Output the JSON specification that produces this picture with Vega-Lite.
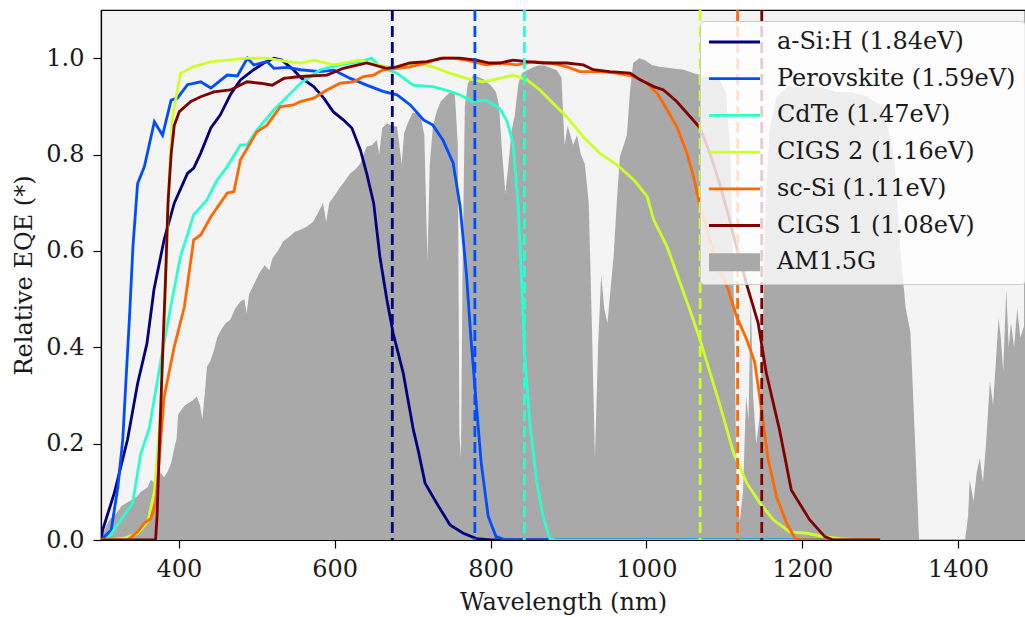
{
  "$schema": "https://vega.github.io/schema/vega-lite/v6.json",
  "width": 924,
  "height": 530,
  "autosize": {"type": "none"},
  "padding": {"left": 101, "top": 10, "right": 0, "bottom": 77},
  "background": "white",
  "config": {
    "view": {"fill": "#f4f4f4", "stroke": "#000000", "strokeWidth": 1.2},
    "font": "DejaVu Serif",
    "axis": {
      "domainColor": "#000000", "domainWidth": 1.2,
      "tickColor": "#000000", "tickWidth": 1.2, "tickSize": 8,
      "labelFont": "DejaVu Serif", "labelFontSize": 24, "labelColor": "#1a1a1a", "labelPadding": 9,
      "titleFont": "DejaVu Serif", "titleFontSize": 24, "titleFontWeight": "normal", "titleColor": "#1a1a1a",
      "grid": false
    },
    "legend": {
      "labelFont": "DejaVu Serif", "labelFontSize": 24, "labelColor": "#1a1a1a", "labelLimit": 500,
      "fillColor": "rgba(255,255,255,0.8)", "strokeColor": "#cccccc", "cornerRadius": 4,
      "padding": 9
    }
  },
  "datasets": {
    "spectrum": [
      {"wl":300,"rel":0.0},{"wl":303,"rel":0.015},{"wl":307,"rel":0.03},{"wl":312,"rel":0.045},{"wl":317,"rel":0.05},{"wl":322,"rel":0.06},{"wl":326,"rel":0.07},{"wl":331,"rel":0.075},{"wl":336,"rel":0.08},{"wl":341,"rel":0.085},{"wl":346,"rel":0.09},{"wl":351,"rel":0.1},{"wl":356,"rel":0.105},{"wl":360,"rel":0.11},{"wl":364,"rel":0.125},{"wl":368,"rel":0.12},{"wl":372,"rel":0.152},{"wl":376,"rel":0.14},{"wl":381,"rel":0.13},{"wl":385,"rel":0.14},{"wl":390,"rel":0.16},{"wl":394,"rel":0.19},{"wl":397,"rel":0.21},{"wl":399,"rel":0.26},{"wl":403,"rel":0.27},{"wl":408,"rel":0.28},{"wl":413,"rel":0.285},{"wl":418,"rel":0.29},{"wl":423,"rel":0.298},{"wl":427,"rel":0.28},{"wl":430,"rel":0.25},{"wl":433,"rel":0.3},{"wl":436,"rel":0.36},{"wl":440,"rel":0.37},{"wl":445,"rel":0.394},{"wl":449,"rel":0.42},{"wl":454,"rel":0.436},{"wl":460,"rel":0.45},{"wl":466,"rel":0.457},{"wl":472,"rel":0.48},{"wl":479,"rel":0.495},{"wl":484,"rel":0.5},{"wl":487,"rel":0.47},{"wl":490,"rel":0.51},{"wl":496,"rel":0.53},{"wl":503,"rel":0.553},{"wl":510,"rel":0.57},{"wl":516,"rel":0.56},{"wl":520,"rel":0.585},{"wl":527,"rel":0.6},{"wl":534,"rel":0.62},{"wl":542,"rel":0.63},{"wl":549,"rel":0.64},{"wl":556,"rel":0.644},{"wl":564,"rel":0.65},{"wl":572,"rel":0.66},{"wl":579,"rel":0.68},{"wl":585,"rel":0.7},{"wl":589,"rel":0.66},{"wl":593,"rel":0.7},{"wl":599,"rel":0.713},{"wl":606,"rel":0.73},{"wl":613,"rel":0.745},{"wl":620,"rel":0.761},{"wl":627,"rel":0.77},{"wl":633,"rel":0.782},{"wl":637,"rel":0.8},{"wl":641,"rel":0.816},{"wl":648,"rel":0.82},{"wl":654,"rel":0.83},{"wl":657,"rel":0.8},{"wl":661,"rel":0.855},{"wl":667,"rel":0.865},{"wl":673,"rel":0.86},{"wl":680,"rel":0.858},{"wl":686,"rel":0.78},{"wl":689,"rel":0.844},{"wl":695,"rel":0.87},{"wl":700,"rel":0.886},{"wl":706,"rel":0.886},{"wl":711,"rel":0.875},{"wl":715,"rel":0.84},{"wl":719,"rel":0.58},{"wl":722,"rel":0.78},{"wl":726,"rel":0.858},{"wl":731,"rel":0.89},{"wl":736,"rel":0.91},{"wl":742,"rel":0.92},{"wl":748,"rel":0.93},{"wl":754,"rel":0.93},{"wl":758,"rel":0.82},{"wl":760,"rel":0.22},{"wl":762,"rel":0.17},{"wl":764,"rel":0.55},{"wl":767,"rel":0.9},{"wl":771,"rel":0.948},{"wl":778,"rel":0.965},{"wl":786,"rel":0.96},{"wl":792,"rel":0.955},{"wl":797,"rel":0.948},{"wl":802,"rel":0.94},{"wl":807,"rel":0.93},{"wl":811,"rel":0.9},{"wl":815,"rel":0.8},{"wl":819,"rel":0.72},{"wl":823,"rel":0.78},{"wl":827,"rel":0.85},{"wl":831,"rel":0.88},{"wl":836,"rel":0.95},{"wl":841,"rel":0.97},{"wl":847,"rel":0.975},{"wl":853,"rel":0.98},{"wl":861,"rel":0.985},{"wl":869,"rel":0.985},{"wl":877,"rel":0.98},{"wl":885,"rel":0.975},{"wl":891,"rel":0.96},{"wl":895,"rel":0.82},{"wl":899,"rel":0.86},{"wl":906,"rel":0.82},{"wl":911,"rel":0.84},{"wl":916,"rel":0.8},{"wl":921,"rel":0.78},{"wl":926,"rel":0.7},{"wl":930,"rel":0.45},{"wl":934,"rel":0.17},{"wl":938,"rel":0.4},{"wl":942,"rel":0.55},{"wl":946,"rel":0.48},{"wl":950,"rel":0.45},{"wl":954,"rel":0.52},{"wl":958,"rel":0.59},{"wl":962,"rel":0.7},{"wl":966,"rel":0.796},{"wl":971,"rel":0.82},{"wl":975,"rel":0.84},{"wl":979,"rel":0.93},{"wl":983,"rel":0.99},{"wl":991,"rel":1.0},{"wl":999,"rel":0.995},{"wl":1007,"rel":0.986},{"wl":1017,"rel":0.982},{"wl":1027,"rel":0.98},{"wl":1037,"rel":0.978},{"wl":1048,"rel":0.976},{"wl":1059,"rel":0.97},{"wl":1069,"rel":0.965},{"wl":1082,"rel":0.96},{"wl":1094,"rel":0.955},{"wl":1102,"rel":0.93},{"wl":1108,"rel":0.8},{"wl":1113,"rel":0.45},{"wl":1116,"rel":0.08},{"wl":1120,"rel":0.04},{"wl":1124,"rel":0.1},{"wl":1128,"rel":0.3},{"wl":1131,"rel":0.25},{"wl":1134,"rel":0.5},{"wl":1137,"rel":0.3},{"wl":1141,"rel":0.2},{"wl":1145,"rel":0.25},{"wl":1149,"rel":0.4},{"wl":1153,"rel":0.7},{"wl":1158,"rel":0.85},{"wl":1167,"rel":0.92},{"wl":1182,"rel":0.94},{"wl":1202,"rel":0.94},{"wl":1222,"rel":0.94},{"wl":1243,"rel":0.93},{"wl":1263,"rel":0.93},{"wl":1283,"rel":0.92},{"wl":1303,"rel":0.9},{"wl":1318,"rel":0.8},{"wl":1326,"rel":0.6},{"wl":1333,"rel":0.48},{"wl":1339,"rel":0.43},{"wl":1345,"rel":0.2},{"wl":1350,"rel":0.0},{"wl":1409,"rel":0.0},{"wl":1413,"rel":0.05},{"wl":1415,"rel":0.125},{"wl":1420,"rel":0.08},{"wl":1424,"rel":0.14},{"wl":1428,"rel":0.17},{"wl":1432,"rel":0.12},{"wl":1436,"rel":0.2},{"wl":1441,"rel":0.33},{"wl":1445,"rel":0.28},{"wl":1449,"rel":0.38},{"wl":1452,"rel":0.46},{"wl":1455,"rel":0.42},{"wl":1458,"rel":0.35},{"wl":1462,"rel":0.52},{"wl":1465,"rel":0.4},{"wl":1468,"rel":0.45},{"wl":1472,"rel":0.4},{"wl":1476,"rel":0.48},{"wl":1480,"rel":0.42},{"wl":1486,"rel":0.45}
    ],
    "eqe": [
      {"series":"a-Si:H (1.84eV)","wl":300,"eqe":0.0},{"series":"a-Si:H (1.84eV)","wl":302,"eqe":0.02},{"series":"a-Si:H (1.84eV)","wl":317,"eqe":0.097},{"series":"a-Si:H (1.84eV)","wl":334,"eqe":0.208},{"series":"a-Si:H (1.84eV)","wl":347,"eqe":0.325},{"series":"a-Si:H (1.84eV)","wl":359,"eqe":0.408},{"series":"a-Si:H (1.84eV)","wl":368,"eqe":0.52},{"series":"a-Si:H (1.84eV)","wl":381,"eqe":0.623},{"series":"a-Si:H (1.84eV)","wl":394,"eqe":0.699},{"series":"a-Si:H (1.84eV)","wl":411,"eqe":0.761},{"series":"a-Si:H (1.84eV)","wl":419,"eqe":0.772},{"series":"a-Si:H (1.84eV)","wl":428,"eqe":0.803},{"series":"a-Si:H (1.84eV)","wl":441,"eqe":0.855},{"series":"a-Si:H (1.84eV)","wl":453,"eqe":0.882},{"series":"a-Si:H (1.84eV)","wl":466,"eqe":0.924},{"series":"a-Si:H (1.84eV)","wl":479,"eqe":0.955},{"series":"a-Si:H (1.84eV)","wl":496,"eqe":0.976},{"series":"a-Si:H (1.84eV)","wl":509,"eqe":0.99},{"series":"a-Si:H (1.84eV)","wl":522,"eqe":1.0},{"series":"a-Si:H (1.84eV)","wl":532,"eqe":0.996},{"series":"a-Si:H (1.84eV)","wl":547,"eqe":0.976},{"series":"a-Si:H (1.84eV)","wl":556,"eqe":0.96},{"series":"a-Si:H (1.84eV)","wl":573,"eqe":0.941},{"series":"a-Si:H (1.84eV)","wl":586,"eqe":0.917},{"series":"a-Si:H (1.84eV)","wl":598,"eqe":0.889},{"series":"a-Si:H (1.84eV)","wl":611,"eqe":0.872},{"series":"a-Si:H (1.84eV)","wl":622,"eqe":0.855},{"series":"a-Si:H (1.84eV)","wl":633,"eqe":0.809},{"series":"a-Si:H (1.84eV)","wl":641,"eqe":0.761},{"series":"a-Si:H (1.84eV)","wl":650,"eqe":0.699},{"series":"a-Si:H (1.84eV)","wl":658,"eqe":0.588},{"series":"a-Si:H (1.84eV)","wl":667,"eqe":0.498},{"series":"a-Si:H (1.84eV)","wl":675,"eqe":0.429},{"series":"a-Si:H (1.84eV)","wl":688,"eqe":0.346},{"series":"a-Si:H (1.84eV)","wl":701,"eqe":0.228},{"series":"a-Si:H (1.84eV)","wl":707,"eqe":0.187},{"series":"a-Si:H (1.84eV)","wl":716,"eqe":0.118},{"series":"a-Si:H (1.84eV)","wl":731,"eqe":0.076},{"series":"a-Si:H (1.84eV)","wl":748,"eqe":0.031},{"series":"a-Si:H (1.84eV)","wl":765,"eqe":0.014},{"series":"a-Si:H (1.84eV)","wl":782,"eqe":0.003},{"series":"a-Si:H (1.84eV)","wl":800,"eqe":0.0},{"series":"a-Si:H (1.84eV)","wl":1300,"eqe":0.0},
      {"series":"Perovskite (1.59eV)","wl":300,"eqe":0.0},{"series":"Perovskite (1.59eV)","wl":302.5,"eqe":0.004},{"series":"Perovskite (1.59eV)","wl":313,"eqe":0.02},{"series":"Perovskite (1.59eV)","wl":321.7,"eqe":0.11},{"series":"Perovskite (1.59eV)","wl":328,"eqe":0.21},{"series":"Perovskite (1.59eV)","wl":332,"eqe":0.33},{"series":"Perovskite (1.59eV)","wl":336.5,"eqe":0.46},{"series":"Perovskite (1.59eV)","wl":341,"eqe":0.609},{"series":"Perovskite (1.59eV)","wl":347,"eqe":0.74},{"series":"Perovskite (1.59eV)","wl":355.7,"eqe":0.775},{"series":"Perovskite (1.59eV)","wl":368.5,"eqe":0.868},{"series":"Perovskite (1.59eV)","wl":379,"eqe":0.84},{"series":"Perovskite (1.59eV)","wl":390,"eqe":0.913},{"series":"Perovskite (1.59eV)","wl":398,"eqe":0.917},{"series":"Perovskite (1.59eV)","wl":411,"eqe":0.945},{"series":"Perovskite (1.59eV)","wl":428,"eqe":0.951},{"series":"Perovskite (1.59eV)","wl":441,"eqe":0.938},{"series":"Perovskite (1.59eV)","wl":462,"eqe":0.965},{"series":"Perovskite (1.59eV)","wl":475,"eqe":0.963},{"series":"Perovskite (1.59eV)","wl":488,"eqe":1.0},{"series":"Perovskite (1.59eV)","wl":496,"eqe":0.986},{"series":"Perovskite (1.59eV)","wl":513,"eqe":0.993},{"series":"Perovskite (1.59eV)","wl":522,"eqe":0.979},{"series":"Perovskite (1.59eV)","wl":539,"eqe":0.981},{"series":"Perovskite (1.59eV)","wl":556,"eqe":0.976},{"series":"Perovskite (1.59eV)","wl":581,"eqe":0.972},{"series":"Perovskite (1.59eV)","wl":599,"eqe":0.975},{"series":"Perovskite (1.59eV)","wl":620,"eqe":0.958},{"series":"Perovskite (1.59eV)","wl":641,"eqe":0.944},{"series":"Perovskite (1.59eV)","wl":662,"eqe":0.931},{"series":"Perovskite (1.59eV)","wl":680,"eqe":0.924},{"series":"Perovskite (1.59eV)","wl":697,"eqe":0.903},{"series":"Perovskite (1.59eV)","wl":714,"eqe":0.872},{"series":"Perovskite (1.59eV)","wl":726,"eqe":0.861},{"series":"Perovskite (1.59eV)","wl":739,"eqe":0.83},{"series":"Perovskite (1.59eV)","wl":752,"eqe":0.782},{"series":"Perovskite (1.59eV)","wl":761,"eqe":0.692},{"series":"Perovskite (1.59eV)","wl":769,"eqe":0.553},{"series":"Perovskite (1.59eV)","wl":775,"eqe":0.415},{"series":"Perovskite (1.59eV)","wl":782,"eqe":0.277},{"series":"Perovskite (1.59eV)","wl":788,"eqe":0.16},{"series":"Perovskite (1.59eV)","wl":797,"eqe":0.049},{"series":"Perovskite (1.59eV)","wl":807,"eqe":0.007},{"series":"Perovskite (1.59eV)","wl":820,"eqe":0.0},{"series":"Perovskite (1.59eV)","wl":1300,"eqe":0.0},
      {"series":"CdTe (1.47eV)","wl":300,"eqe":0.0},{"series":"CdTe (1.47eV)","wl":308.5,"eqe":0.002},{"series":"CdTe (1.47eV)","wl":321,"eqe":0.031},{"series":"CdTe (1.47eV)","wl":340.5,"eqe":0.076},{"series":"CdTe (1.47eV)","wl":351,"eqe":0.179},{"series":"CdTe (1.47eV)","wl":362,"eqe":0.232},{"series":"CdTe (1.47eV)","wl":377,"eqe":0.374},{"series":"CdTe (1.47eV)","wl":389.5,"eqe":0.484},{"series":"CdTe (1.47eV)","wl":402,"eqe":0.588},{"series":"CdTe (1.47eV)","wl":419,"eqe":0.675},{"series":"CdTe (1.47eV)","wl":436,"eqe":0.706},{"series":"CdTe (1.47eV)","wl":449,"eqe":0.747},{"series":"CdTe (1.47eV)","wl":462,"eqe":0.775},{"series":"CdTe (1.47eV)","wl":479,"eqe":0.82},{"series":"CdTe (1.47eV)","wl":487.5,"eqe":0.82},{"series":"CdTe (1.47eV)","wl":500,"eqe":0.851},{"series":"CdTe (1.47eV)","wl":522,"eqe":0.893},{"series":"CdTe (1.47eV)","wl":539,"eqe":0.92},{"series":"CdTe (1.47eV)","wl":556,"eqe":0.948},{"series":"CdTe (1.47eV)","wl":581.5,"eqe":0.976},{"series":"CdTe (1.47eV)","wl":607,"eqe":0.986},{"series":"CdTe (1.47eV)","wl":632.6,"eqe":0.993},{"series":"CdTe (1.47eV)","wl":647.5,"eqe":1.0},{"series":"CdTe (1.47eV)","wl":658,"eqe":0.982},{"series":"CdTe (1.47eV)","wl":679.5,"eqe":0.969},{"series":"CdTe (1.47eV)","wl":700.7,"eqe":0.944},{"series":"CdTe (1.47eV)","wl":726,"eqe":0.941},{"series":"CdTe (1.47eV)","wl":743,"eqe":0.934},{"series":"CdTe (1.47eV)","wl":760.5,"eqe":0.924},{"series":"CdTe (1.47eV)","wl":777,"eqe":0.91},{"series":"CdTe (1.47eV)","wl":794.5,"eqe":0.913},{"series":"CdTe (1.47eV)","wl":812,"eqe":0.895},{"series":"CdTe (1.47eV)","wl":821,"eqe":0.87},{"series":"CdTe (1.47eV)","wl":829,"eqe":0.823},{"series":"CdTe (1.47eV)","wl":835.5,"eqe":0.692},{"series":"CdTe (1.47eV)","wl":839.5,"eqe":0.553},{"series":"CdTe (1.47eV)","wl":844,"eqe":0.38},{"series":"CdTe (1.47eV)","wl":850.5,"eqe":0.242},{"series":"CdTe (1.47eV)","wl":859,"eqe":0.124},{"series":"CdTe (1.47eV)","wl":867.5,"eqe":0.048},{"series":"CdTe (1.47eV)","wl":876,"eqe":0.003},{"series":"CdTe (1.47eV)","wl":885,"eqe":0.0},{"series":"CdTe (1.47eV)","wl":1300,"eqe":0.0},
      {"series":"CIGS 2 (1.16eV)","wl":300,"eqe":0.0},{"series":"CIGS 2 (1.16eV)","wl":308.5,"eqe":0.0},{"series":"CIGS 2 (1.16eV)","wl":330,"eqe":0.004},{"series":"CIGS 2 (1.16eV)","wl":347,"eqe":0.014},{"series":"CIGS 2 (1.16eV)","wl":360,"eqe":0.038},{"series":"CIGS 2 (1.16eV)","wl":368.5,"eqe":0.1},{"series":"CIGS 2 (1.16eV)","wl":377,"eqe":0.277},{"series":"CIGS 2 (1.16eV)","wl":383.5,"eqe":0.553},{"series":"CIGS 2 (1.16eV)","wl":388,"eqe":0.775},{"series":"CIGS 2 (1.16eV)","wl":392,"eqe":0.879},{"series":"CIGS 2 (1.16eV)","wl":402,"eqe":0.969},{"series":"CIGS 2 (1.16eV)","wl":419,"eqe":0.982},{"series":"CIGS 2 (1.16eV)","wl":441,"eqe":0.993},{"series":"CIGS 2 (1.16eV)","wl":462,"eqe":0.996},{"series":"CIGS 2 (1.16eV)","wl":487.5,"eqe":1.0},{"series":"CIGS 2 (1.16eV)","wl":513,"eqe":1.0},{"series":"CIGS 2 (1.16eV)","wl":539,"eqe":0.993},{"series":"CIGS 2 (1.16eV)","wl":556,"eqe":0.99},{"series":"CIGS 2 (1.16eV)","wl":573,"eqe":0.996},{"series":"CIGS 2 (1.16eV)","wl":598.5,"eqe":0.986},{"series":"CIGS 2 (1.16eV)","wl":632.6,"eqe":0.996},{"series":"CIGS 2 (1.16eV)","wl":654,"eqe":0.986},{"series":"CIGS 2 (1.16eV)","wl":679.5,"eqe":0.979},{"series":"CIGS 2 (1.16eV)","wl":705,"eqe":0.99},{"series":"CIGS 2 (1.16eV)","wl":726,"eqe":0.982},{"series":"CIGS 2 (1.16eV)","wl":747.6,"eqe":0.969},{"series":"CIGS 2 (1.16eV)","wl":769,"eqe":0.958},{"series":"CIGS 2 (1.16eV)","wl":790,"eqe":0.951},{"series":"CIGS 2 (1.16eV)","wl":812,"eqe":0.958},{"series":"CIGS 2 (1.16eV)","wl":829,"eqe":0.965},{"series":"CIGS 2 (1.16eV)","wl":846.5,"eqe":0.955},{"series":"CIGS 2 (1.16eV)","wl":863.5,"eqe":0.934},{"series":"CIGS 2 (1.16eV)","wl":880.5,"eqe":0.906},{"series":"CIGS 2 (1.16eV)","wl":897.5,"eqe":0.879},{"series":"CIGS 2 (1.16eV)","wl":919,"eqe":0.837},{"series":"CIGS 2 (1.16eV)","wl":940,"eqe":0.803},{"series":"CIGS 2 (1.16eV)","wl":962,"eqe":0.779},{"series":"CIGS 2 (1.16eV)","wl":984,"eqe":0.747},{"series":"CIGS 2 (1.16eV)","wl":1001,"eqe":0.713},{"series":"CIGS 2 (1.16eV)","wl":1009.5,"eqe":0.664},{"series":"CIGS 2 (1.16eV)","wl":1026.5,"eqe":0.609},{"series":"CIGS 2 (1.16eV)","wl":1043.5,"eqe":0.533},{"series":"CIGS 2 (1.16eV)","wl":1056,"eqe":0.477},{"series":"CIGS 2 (1.16eV)","wl":1069,"eqe":0.415},{"series":"CIGS 2 (1.16eV)","wl":1082,"eqe":0.346},{"series":"CIGS 2 (1.16eV)","wl":1095,"eqe":0.277},{"series":"CIGS 2 (1.16eV)","wl":1112,"eqe":0.18},{"series":"CIGS 2 (1.16eV)","wl":1129,"eqe":0.118},{"series":"CIGS 2 (1.16eV)","wl":1146,"eqe":0.076},{"series":"CIGS 2 (1.16eV)","wl":1163,"eqe":0.042},{"series":"CIGS 2 (1.16eV)","wl":1184,"eqe":0.017},{"series":"CIGS 2 (1.16eV)","wl":1206,"eqe":0.014},{"series":"CIGS 2 (1.16eV)","wl":1227,"eqe":0.007},{"series":"CIGS 2 (1.16eV)","wl":1249,"eqe":0.003},{"series":"CIGS 2 (1.16eV)","wl":1270,"eqe":0.0},{"series":"CIGS 2 (1.16eV)","wl":1300,"eqe":0.0},
      {"series":"sc-Si (1.11eV)","wl":300,"eqe":0.0},{"series":"sc-Si (1.11eV)","wl":334,"eqe":0.0},{"series":"sc-Si (1.11eV)","wl":347,"eqe":0.017},{"series":"sc-Si (1.11eV)","wl":355.7,"eqe":0.035},{"series":"sc-Si (1.11eV)","wl":364,"eqe":0.045},{"series":"sc-Si (1.11eV)","wl":370.5,"eqe":0.079},{"series":"sc-Si (1.11eV)","wl":381,"eqe":0.297},{"series":"sc-Si (1.11eV)","wl":394,"eqe":0.401},{"series":"sc-Si (1.11eV)","wl":407,"eqe":0.484},{"series":"sc-Si (1.11eV)","wl":419,"eqe":0.623},{"series":"sc-Si (1.11eV)","wl":428,"eqe":0.633},{"series":"sc-Si (1.11eV)","wl":441,"eqe":0.671},{"series":"sc-Si (1.11eV)","wl":462,"eqe":0.72},{"series":"sc-Si (1.11eV)","wl":470.7,"eqe":0.723},{"series":"sc-Si (1.11eV)","wl":479,"eqe":0.789},{"series":"sc-Si (1.11eV)","wl":500,"eqe":0.847},{"series":"sc-Si (1.11eV)","wl":513,"eqe":0.861},{"series":"sc-Si (1.11eV)","wl":530,"eqe":0.899},{"series":"sc-Si (1.11eV)","wl":547,"eqe":0.903},{"series":"sc-Si (1.11eV)","wl":556,"eqe":0.91},{"series":"sc-Si (1.11eV)","wl":573,"eqe":0.917},{"series":"sc-Si (1.11eV)","wl":590,"eqe":0.934},{"series":"sc-Si (1.11eV)","wl":607,"eqe":0.948},{"series":"sc-Si (1.11eV)","wl":624,"eqe":0.951},{"series":"sc-Si (1.11eV)","wl":637,"eqe":0.962},{"series":"sc-Si (1.11eV)","wl":650,"eqe":0.965},{"series":"sc-Si (1.11eV)","wl":662,"eqe":0.976},{"series":"sc-Si (1.11eV)","wl":679.5,"eqe":0.979},{"series":"sc-Si (1.11eV)","wl":696.5,"eqe":0.982},{"series":"sc-Si (1.11eV)","wl":718,"eqe":0.99},{"series":"sc-Si (1.11eV)","wl":735,"eqe":1.0},{"series":"sc-Si (1.11eV)","wl":752,"eqe":1.0},{"series":"sc-Si (1.11eV)","wl":769,"eqe":0.996},{"series":"sc-Si (1.11eV)","wl":794.5,"eqe":0.986},{"series":"sc-Si (1.11eV)","wl":812,"eqe":0.99},{"series":"sc-Si (1.11eV)","wl":834,"eqe":0.986},{"series":"sc-Si (1.11eV)","wl":855,"eqe":0.993},{"series":"sc-Si (1.11eV)","wl":876.5,"eqe":0.99},{"series":"sc-Si (1.11eV)","wl":898,"eqe":0.982},{"series":"sc-Si (1.11eV)","wl":915,"eqe":0.972},{"series":"sc-Si (1.11eV)","wl":940,"eqe":0.972},{"series":"sc-Si (1.11eV)","wl":962,"eqe":0.969},{"series":"sc-Si (1.11eV)","wl":984,"eqe":0.962},{"series":"sc-Si (1.11eV)","wl":1001,"eqe":0.948},{"series":"sc-Si (1.11eV)","wl":1014,"eqe":0.927},{"series":"sc-Si (1.11eV)","wl":1026.5,"eqe":0.893},{"series":"sc-Si (1.11eV)","wl":1039,"eqe":0.858},{"series":"sc-Si (1.11eV)","wl":1052,"eqe":0.803},{"series":"sc-Si (1.11eV)","wl":1060.5,"eqe":0.754},{"series":"sc-Si (1.11eV)","wl":1069,"eqe":0.692},{"series":"sc-Si (1.11eV)","wl":1082,"eqe":0.62},{"series":"sc-Si (1.11eV)","wl":1094,"eqe":0.56},{"series":"sc-Si (1.11eV)","wl":1105,"eqe":0.52},{"series":"sc-Si (1.11eV)","wl":1116,"eqe":0.463},{"series":"sc-Si (1.11eV)","wl":1129,"eqe":0.415},{"series":"sc-Si (1.11eV)","wl":1139,"eqe":0.37},{"series":"sc-Si (1.11eV)","wl":1147,"eqe":0.28},{"series":"sc-Si (1.11eV)","wl":1156,"eqe":0.17},{"series":"sc-Si (1.11eV)","wl":1167,"eqe":0.09},{"series":"sc-Si (1.11eV)","wl":1180,"eqe":0.035},{"series":"sc-Si (1.11eV)","wl":1191,"eqe":0.003},{"series":"sc-Si (1.11eV)","wl":1202,"eqe":0.0},{"series":"sc-Si (1.11eV)","wl":1300,"eqe":0.0},
      {"series":"CIGS 1 (1.08eV)","wl":300,"eqe":0.0},{"series":"CIGS 1 (1.08eV)","wl":370,"eqe":0.0},{"series":"CIGS 1 (1.08eV)","wl":372,"eqe":0.05},{"series":"CIGS 1 (1.08eV)","wl":375,"eqe":0.2},{"series":"CIGS 1 (1.08eV)","wl":379,"eqe":0.38},{"series":"CIGS 1 (1.08eV)","wl":383,"eqe":0.55},{"series":"CIGS 1 (1.08eV)","wl":386,"eqe":0.7},{"series":"CIGS 1 (1.08eV)","wl":390,"eqe":0.8},{"series":"CIGS 1 (1.08eV)","wl":394,"eqe":0.86},{"series":"CIGS 1 (1.08eV)","wl":400.5,"eqe":0.889},{"series":"CIGS 1 (1.08eV)","wl":415.4,"eqe":0.91},{"series":"CIGS 1 (1.08eV)","wl":428,"eqe":0.92},{"series":"CIGS 1 (1.08eV)","wl":445,"eqe":0.93},{"series":"CIGS 1 (1.08eV)","wl":466,"eqe":0.934},{"series":"CIGS 1 (1.08eV)","wl":487.5,"eqe":0.951},{"series":"CIGS 1 (1.08eV)","wl":504.6,"eqe":0.948},{"series":"CIGS 1 (1.08eV)","wl":519.7,"eqe":0.944},{"series":"CIGS 1 (1.08eV)","wl":534.6,"eqe":0.958},{"series":"CIGS 1 (1.08eV)","wl":556,"eqe":0.962},{"series":"CIGS 1 (1.08eV)","wl":590,"eqe":0.965},{"series":"CIGS 1 (1.08eV)","wl":611,"eqe":0.979},{"series":"CIGS 1 (1.08eV)","wl":641,"eqe":0.99},{"series":"CIGS 1 (1.08eV)","wl":666.7,"eqe":0.979},{"series":"CIGS 1 (1.08eV)","wl":679.5,"eqe":0.982},{"series":"CIGS 1 (1.08eV)","wl":696.5,"eqe":0.99},{"series":"CIGS 1 (1.08eV)","wl":718,"eqe":0.993},{"series":"CIGS 1 (1.08eV)","wl":739,"eqe":1.0},{"series":"CIGS 1 (1.08eV)","wl":760.5,"eqe":1.0},{"series":"CIGS 1 (1.08eV)","wl":781.7,"eqe":0.996},{"series":"CIGS 1 (1.08eV)","wl":798.6,"eqe":0.99},{"series":"CIGS 1 (1.08eV)","wl":812,"eqe":0.99},{"series":"CIGS 1 (1.08eV)","wl":829,"eqe":0.996},{"series":"CIGS 1 (1.08eV)","wl":846.5,"eqe":0.993},{"series":"CIGS 1 (1.08eV)","wl":868,"eqe":0.99},{"series":"CIGS 1 (1.08eV)","wl":897.5,"eqe":0.99},{"series":"CIGS 1 (1.08eV)","wl":919,"eqe":0.986},{"series":"CIGS 1 (1.08eV)","wl":932,"eqe":0.976},{"series":"CIGS 1 (1.08eV)","wl":953,"eqe":0.972},{"series":"CIGS 1 (1.08eV)","wl":979,"eqe":0.969},{"series":"CIGS 1 (1.08eV)","wl":992,"eqe":0.955},{"series":"CIGS 1 (1.08eV)","wl":1009.5,"eqe":0.941},{"series":"CIGS 1 (1.08eV)","wl":1022,"eqe":0.934},{"series":"CIGS 1 (1.08eV)","wl":1039,"eqe":0.91},{"series":"CIGS 1 (1.08eV)","wl":1056,"eqe":0.879},{"series":"CIGS 1 (1.08eV)","wl":1069,"eqe":0.855},{"series":"CIGS 1 (1.08eV)","wl":1082,"eqe":0.8},{"series":"CIGS 1 (1.08eV)","wl":1094,"eqe":0.74},{"series":"CIGS 1 (1.08eV)","wl":1106,"eqe":0.67},{"series":"CIGS 1 (1.08eV)","wl":1117,"eqe":0.6},{"series":"CIGS 1 (1.08eV)","wl":1129,"eqe":0.529},{"series":"CIGS 1 (1.08eV)","wl":1143.5,"eqe":0.45},{"series":"CIGS 1 (1.08eV)","wl":1154,"eqe":0.346},{"series":"CIGS 1 (1.08eV)","wl":1171,"eqe":0.228},{"series":"CIGS 1 (1.08eV)","wl":1186,"eqe":0.104},{"series":"CIGS 1 (1.08eV)","wl":1209.5,"eqe":0.042},{"series":"CIGS 1 (1.08eV)","wl":1229,"eqe":0.007},{"series":"CIGS 1 (1.08eV)","wl":1240,"eqe":0.0},{"series":"CIGS 1 (1.08eV)","wl":1300,"eqe":0.0}
    ],
    "gaps": [
      {"series":"a-Si:H (1.84eV)","wl":673.9},
      {"series":"Perovskite (1.59eV)","wl":779.9},
      {"series":"CdTe (1.47eV)","wl":843.5},
      {"series":"CIGS 2 (1.16eV)","wl":1069.0},
      {"series":"sc-Si (1.11eV)","wl":1117.1},
      {"series":"CIGS 1 (1.08eV)","wl":1148.1}
    ]
  },
  "layer": [
    {
      "data": {"name": "spectrum"},
      "mark": {"type": "area", "color": "#a9a9a9", "opacity": 1, "interpolate": "linear", "clip": true},
      "encoding": {
        "x": {"field": "wl", "type": "quantitative",
              "scale": {"domain": [300, 1486], "nice": false, "zero": false},
              "axis": {"values": [400, 600, 800, 1000, 1200, 1400], "format": "d", "title": "Wavelength (nm)", "titlePadding": 9, "labelFlush": false}},
        "y": {"field": "rel", "type": "quantitative",
              "scale": {"domain": [0, 1.1], "nice": false, "zero": true},
              "axis": {"values": [0, 0.2, 0.4, 0.6, 0.8, 1.0], "format": ".1f", "title": "Relative EQE (*)", "titlePadding": 9, "labelFlush": false}}
      }
    },
    {
      "data": {"name": "eqe"},
      "mark": {"type": "line", "clip": true, "strokeCap": "butt"},
      "encoding": {
        "x": {"field": "wl", "type": "quantitative"},
        "y": {"field": "eqe", "type": "quantitative"},
        "color": {"field": "series", "type": "nominal",
                  "scale": {"domain": ["a-Si:H (1.84eV)", "Perovskite (1.59eV)", "CdTe (1.47eV)", "CIGS 2 (1.16eV)", "sc-Si (1.11eV)", "CIGS 1 (1.08eV)", "AM1.5G"],
                            "range": ["#000080", "#004cff", "#29ffce", "#ceff29", "#ff6800", "#800000", "#a9a9a9"]},
                  "legend": {"title": null, "orient": "none", "legendX": 599, "legendY": 11, "symbolType": "M-8,0H8", "symbolSize": 40.6, "symbolOffset": 13, "labelOffset": 30, "rowPadding": 12.7, "clipHeight": 24}},
        "strokeWidth": {"field": "series", "type": "nominal",
                        "scale": {"type": "ordinal", "domain": ["a-Si:H (1.84eV)", "Perovskite (1.59eV)", "CdTe (1.47eV)", "CIGS 2 (1.16eV)", "sc-Si (1.11eV)", "CIGS 1 (1.08eV)", "AM1.5G"],
                                  "range": [2.8, 2.8, 2.8, 2.8, 2.8, 2.8, 18]},
                        "legend": {"title": null, "orient": "none", "legendX": 599, "legendY": 11, "symbolType": "M-8,0H8", "symbolSize": 40.6, "symbolOffset": 13, "labelOffset": 30, "rowPadding": 12.7, "clipHeight": 24}}
      }
    },
    {
      "data": {"name": "gaps"},
      "mark": {"type": "rule", "strokeDash": [11, 5], "strokeWidth": 2.8},
      "encoding": {
        "x": {"field": "wl", "type": "quantitative"},
        "color": {"field": "series", "type": "nominal", "legend": null}
      }
    }
  ]
}
